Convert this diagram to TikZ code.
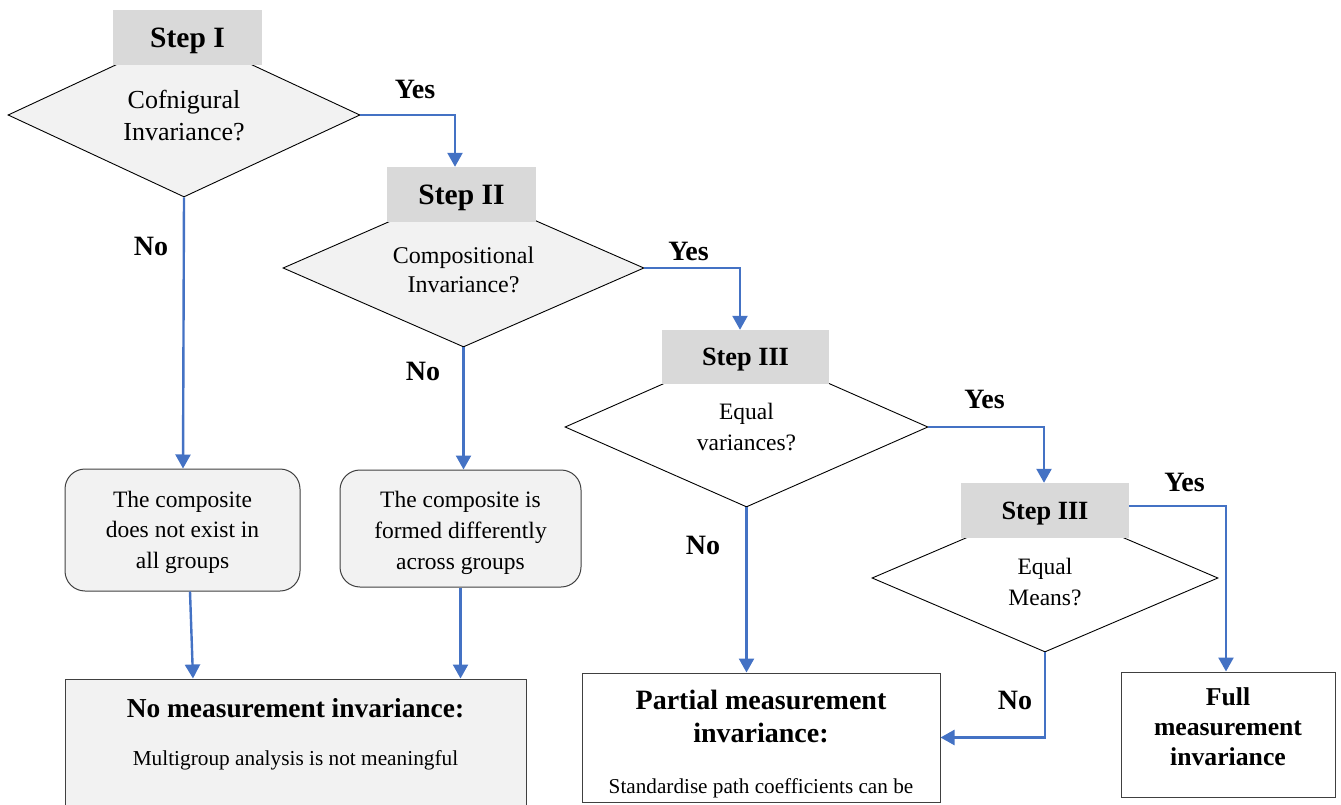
\documentclass[tikz,border=0pt]{standalone}
\usepackage{fontspec}
\setmainfont{Liberation Serif}
\usetikzlibrary{shapes.geometric,arrows.meta}
\definecolor{arrblue}{HTML}{4472C4}
\definecolor{stepgray}{HTML}{D9D9D9}
\definecolor{boxfill}{HTML}{F2F2F2}
\definecolor{edgegray}{HTML}{404040}
\begin{document}
\begin{tikzpicture}[x=1pt,y=-1pt,
  stepbox/.style={fill=stepgray, draw=none, inner sep=0pt, text depth=0pt},
  decision/.style={diamond, draw=black, line width=0.9pt, inner sep=0pt},
  dtext/.style={align=center, inner sep=0pt},
  roundbox/.style={rectangle, rounded corners=20pt, draw=edgegray, line width=1pt, fill=boxfill, inner sep=0pt},
  resultbox/.style={rectangle, draw=edgegray, line width=1pt, inner sep=0pt},
  lab/.style={inner sep=0pt, font=\bfseries\fontsize{28pt}{32pt}\selectfont},
  arr/.style={draw=arrblue, line width=2.4pt, -{Triangle[width=15pt,length=14pt]}}
]
\useasboundingbox (0,0) rectangle (1341,805);
\clip (0,0) rectangle (1341,805);

% decisions
\node[decision, fill=boxfill, minimum width=352pt, minimum height=164pt] (d1) at (184,115) {};
\node[decision, fill=boxfill, minimum width=361pt, minimum height=158pt] (d2) at (463.5,268) {};
\node[decision, fill=white, minimum width=363pt, minimum height=160pt] (d3) at (746.5,427) {};
\node[decision, fill=white, minimum width=346pt, minimum height=148pt] (d4) at (1045,578) {};

% step boxes
\node[stepbox, minimum width=149pt, minimum height=55pt, font=\bfseries\fontsize{29.5pt}{34pt}\selectfont] (s1) at (187.5,37.5) {Step I};
\node[stepbox, minimum width=149pt, minimum height=55pt, font=\bfseries\fontsize{29.5pt}{34pt}\selectfont] (s2) at (461.5,194.5) {Step II};
\node[stepbox, minimum width=167pt, minimum height=54pt, font=\bfseries\fontsize{26.3pt}{30pt}\selectfont] (s3) at (745.5,357) {Step III};
\node[stepbox, minimum width=168pt, minimum height=55pt, font=\bfseries\fontsize{26.3pt}{30pt}\selectfont] (s4) at (1045,510.5) {Step III};

% decision texts
\node[dtext, font=\fontsize{26pt}{32pt}\selectfont] (t1) at (184,116) {Cofnigural\\Invariance?};
\node[dtext, font=\fontsize{24pt}{29pt}\selectfont] (t2) at (463.5,270) {Compositional\\Invariance?};
\node[dtext, font=\fontsize{23.5pt}{31pt}\selectfont] (t3) at (746.5,427) {Equal\\variances?};
\node[dtext, font=\fontsize{23.5pt}{31pt}\selectfont] (t4) at (1045,582) {Equal\\Means?};

% rounded boxes
\node[roundbox, minimum width=235pt, minimum height=122pt] (b1) at (182.5,530) {};
\node[roundbox, minimum width=241pt, minimum height=117pt] (b2) at (460.5,528.5) {};
\node[dtext, font=\fontsize{23.5pt}{30.5pt}\selectfont] (b1t) at (182.5,532) {The composite\\does not exist in\\all groups};
\node[dtext, font=\fontsize{23.5pt}{31pt}\selectfont] (b2t) at (460.5,533) {The composite is\\formed differently\\across groups};

% result boxes
\node[resultbox, fill=boxfill, minimum width=461pt, minimum height=171pt] (nomi) at (295.5,764.5) {};
\node[resultbox, fill=white, minimum width=358pt, minimum height=129pt] (partial) at (761,737.5) {};
\node[resultbox, fill=white, minimum width=214pt, minimum height=125pt] (full) at (1228,734.5) {};

\node[dtext, font=\bfseries\fontsize{27.4pt}{32pt}\selectfont] (nomit) at (295.5,708) {No measurement invariance:};
\node[dtext, font=\fontsize{21.3pt}{26pt}\selectfont] (nomis) at (295.5,760) {Multigroup analysis is not meaningful};
\node[dtext, font=\bfseries\fontsize{28pt}{33pt}\selectfont] (partt) at (761,716.5) {Partial measurement\\invariance:};
\begin{scope}
\clip (partial.south west) rectangle (partial.north east);
\node[dtext, anchor=base, font=\fontsize{21.2pt}{26pt}\selectfont] (parts) at (761,793) {Standardise path coefficients can be};
\end{scope}
\node[resultbox, fill=none, minimum width=358pt, minimum height=129pt] (partialframe) at (761,737.5) {};
\node[dtext, font=\bfseries\fontsize{25.7pt}{30pt}\selectfont] (fullt) at (1228,727) {Full\\measurement\\invariance};

% connectors
\draw[arr] (d1.east) -| ([xshift=-6.5pt]s2.north);
\draw[arr] (d2.east) -| ([xshift=-5.5pt]s3.north);
\draw[arr] (d3.east) -| ([xshift=-1pt]s4.north);
\draw[arr] ([yshift=4.5pt]s4.east) -| ([xshift=-2pt]full.north);
\draw[arr] (d4.south) |- (partial.east);
\draw[arr] (d3.south) -- (d3.south |- partial.north);
\draw[arr] (d2.south) -- (d2.south |- b2.north);
\draw[arr] (d1.south) -- ([xshift=0.5pt]b1.north);
\draw[arr] ([xshift=7.5pt]b1.south) -- ([xshift=-102.5pt]nomi.north);
\draw[arr] (b2.south) -- (b2.south |- nomi.north);

% labels
\node[lab] (y1) at (415,89) {Yes};
\node[lab] (y2) at (688.5,251) {Yes};
\node[lab] (y3) at (984.5,399.5) {Yes};
\node[lab] (y4) at (1184.5,482) {Yes};
\node[lab] (n1) at (151,246) {No};
\node[lab] (n2) at (423,371) {No};
\node[lab] (n3) at (703,545) {No};
\node[lab] (n4) at (1015,700.5) {No};
\end{tikzpicture}
\end{document}
